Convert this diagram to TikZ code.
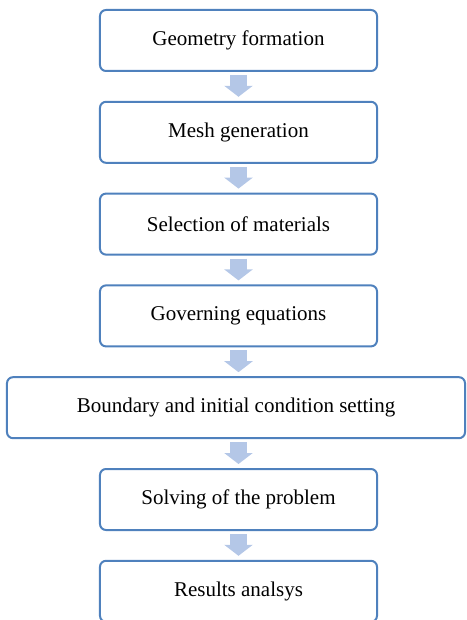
\documentclass[tikz,border=0pt]{standalone}
\usepackage{fontspec}
\setmainfont{Liberation Serif}
\usetikzlibrary{arrows.meta,positioning}
\definecolor{boxblue}{HTML}{4F81BD}
\definecolor{flowblue}{HTML}{B4C7E7}

\begin{document}
\begin{tikzpicture}[box/.style={draw=boxblue,line width=1pt,rounded corners=3pt,
        minimum width=138.5pt,minimum height=30.5pt,
        font=\fontsize{10.5}{12}\selectfont},
    widebox/.style={box,minimum width=229pt},
    flow/.style={draw=flowblue,line width=8.5pt,
        -{Triangle[width=14pt,length=5.5pt]},shorten <=1.5pt,shorten >=2pt},
    node distance=14.4pt]

  \useasboundingbox (-119.25pt,20.25pt) rectangle (113.75pt,-289.75pt);

  \node[box] (geo) at (0,0) {Geometry formation};
  \node[box] (mesh) [below=of geo] {Mesh generation};
  \node[box] (mat) [below=of mesh] {Selection of materials};
  \node[box] (gov) [below=of mat] {Governing equations};
  \node[widebox] (bound) [below=of gov,xshift=-1.25pt] {Boundary and initial condition setting};
  \node[box] (solve) [below=of bound,xshift=1.25pt] {Solving of the problem};
  \node[box] (res) [below=of solve] {Results analsys};

  \draw[flow] (geo) -- (mesh);
  \draw[flow] (mesh) -- (mat);
  \draw[flow] (mat) -- (gov);
  \draw[flow] (gov) -- (gov |- bound.north);
  \draw[flow] (bound.south -| solve) -- (solve);
  \draw[flow] (solve) -- (res);
\end{tikzpicture}
\end{document}
